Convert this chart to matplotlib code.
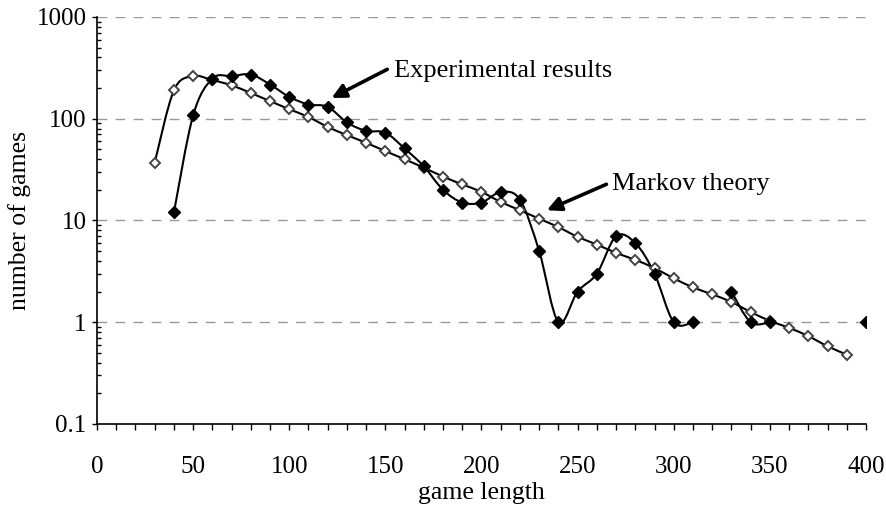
import numpy as np
import matplotlib
matplotlib.use("Agg")
import matplotlib.pyplot as plt
from matplotlib.path import Path
from matplotlib.patches import PathPatch
from matplotlib.ticker import FixedLocator, FuncFormatter, LogLocator, NullFormatter

plt.rcParams["font.family"] = ["Liberation Serif", "DejaVu Serif"]

# Markov theory prediction
markov_x = [30, 40, 50, 60, 70, 80, 90, 100, 110, 120, 130, 140, 150, 160, 170,
            180, 190, 200, 210, 220, 230, 240, 250, 260, 270, 280, 290, 300,
            310, 320, 330, 340, 350, 360, 370, 380, 390]
markov_y = [37, 190, 262, 240, 213, 179, 149, 124, 104, 83, 69, 58, 48, 40, 33,
            27, 22.6, 19.1, 15.2, 12.6, 10.4, 8.6, 6.9, 5.8, 4.8, 4.1, 3.4, 2.7,
            2.2, 1.88, 1.58, 1.26, 1.03, 0.88, 0.73, 0.58, 0.48]

# experimental counts (gaps where no game of that length)
exp_x = [40, 50, 60, 70, 80, 90, 100, 110, 120, 130, 140, 150, 160, 170, 180,
         190, 200, 210, 220, 230, 240, 250, 260, 270, 280, 290, 300, 310,
         330, 340, 350, 400]
exp_y = [12, 108, 248, 262, 272, 217, 164, 138, 131, 92, 76, 73, 51, 34, 20,
         15, 15, 19, 16, 5, 1, 2, 3, 7, 6, 3, 1, 1,
         2, 1, 1, 1]

y_ticks = [0.1, 1, 10, 100, 1000]
y_labels = ["0.1", "1", "10", "100", "1000"]


def smooth_path(xs, ys):
    # excel-like smoothed line: cubic bezier through points, in (x, log y)
    pts = np.column_stack([np.array(xs, float), np.log10(ys)])
    n = len(pts)
    verts = [pts[0]]
    codes = [Path.MOVETO]
    for k in range(n - 1):
        p0 = pts[k - 1] if k > 0 else pts[k]
        p1 = pts[k]
        p2 = pts[k + 1]
        p3 = pts[k + 2] if k + 2 < n else pts[k + 1]
        c1 = p1 + (p2 - p0) / 6
        c2 = p2 - (p3 - p1) / 6
        verts += [c1, c2, p2]
        codes += [Path.CURVE4] * 3
    verts = np.array(verts)
    verts[:, 1] = 10 ** verts[:, 1]
    return Path(verts, codes)


def segments(xs, ys):
    out = []
    start = 0
    for i in range(1, len(xs) + 1):
        if i == len(xs) or xs[i] - xs[i - 1] > 10:
            out.append((xs[start:i], ys[start:i]))
            start = i
    return out


fig = plt.figure(figsize=(8.86, 5.12), dpi=100)
ax = fig.add_axes([0.1095, 0.172, 0.8679, 0.7948])
ax.set_yscale("log")
ax.set_xlim(0, 400)
ax.set_ylim(0.1, 1000)

for yv in [1, 10, 100, 1000]:
    ax.axhline(yv, color="#999999", lw=1, dashes=(7, 6), zorder=0)

for sx, sy in segments(markov_x, markov_y):
    if len(sx) > 1:
        ax.add_patch(PathPatch(smooth_path(sx, sy), facecolor="none",
                               edgecolor="black", lw=1.5, zorder=2))
for sx, sy in segments(exp_x, exp_y):
    if len(sx) > 1:
        ax.add_patch(PathPatch(smooth_path(sx, sy), facecolor="none",
                               edgecolor="black", lw=1.5, zorder=2))

ax.plot(markov_x, markov_y, linestyle="none", marker="D", markersize=5.3,
        markerfacecolor="white", markeredgecolor="#444444", markeredgewidth=1.4,
        zorder=3)
ax.plot(exp_x, exp_y, linestyle="none", marker="D", markersize=6.3,
        markerfacecolor="black", markeredgecolor="black", zorder=4)

arrow = dict(arrowstyle="-|>,head_length=0.7,head_width=0.35", color="black",
             lw=2.6, mutation_scale=12, shrinkA=0, shrinkB=0)
ax.annotate("", xy=(122, 160), xytext=(151, 306), arrowprops=arrow)
ax.text(154.5, 293, "Experimental results", fontsize=19, va="center", ha="left")
ax.annotate("", xy=(234, 12.6), xytext=(265, 22.7), arrowprops=arrow)
ax.text(268, 22.7, "Markov theory", fontsize=19, va="center", ha="left")

ax.spines["top"].set_visible(False)
ax.spines["right"].set_visible(False)
ax.spines["left"].set_linewidth(1.2)
ax.spines["bottom"].set_linewidth(1.2)

ax.xaxis.set_major_locator(FixedLocator([0, 50, 100, 150, 200, 250, 300, 350, 400]))
ax.xaxis.set_minor_locator(FixedLocator(list(range(0, 401, 10))))
ax.tick_params(axis="x", which="both", direction="out", length=4, width=1,
               labelsize=18, pad=19)

ax.yaxis.set_major_locator(FixedLocator(y_ticks))
ax.yaxis.set_major_formatter(FuncFormatter(lambda v, p: y_labels[y_ticks.index(v)] if v in y_ticks else ""))
ax.yaxis.set_minor_locator(LogLocator(base=10, subs=np.arange(2, 10), numticks=20))
ax.yaxis.set_minor_formatter(NullFormatter())
ax.tick_params(axis="y", which="major", direction="out", length=3.5, width=1,
               labelsize=18, pad=4)
ax.tick_params(axis="y", which="minor", direction="in", length=3, width=1)

ax.set_xlabel("game length", fontsize=18.5, labelpad=3)
ax.set_ylabel("number of games", fontsize=18.5, labelpad=4)

fig.savefig("out.png", dpi=100)
